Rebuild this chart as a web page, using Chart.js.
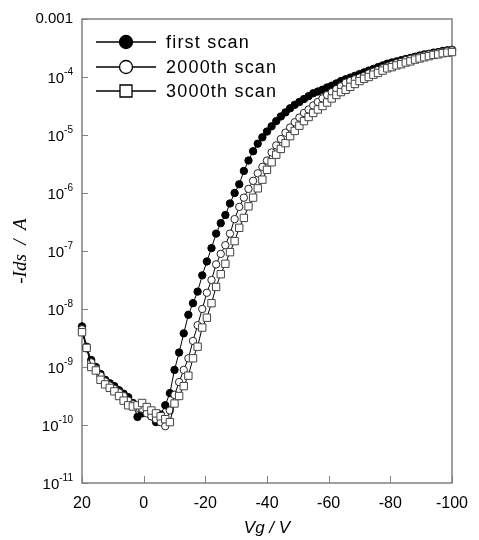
<!DOCTYPE html>
<html>
<head>
<meta charset="utf-8">
<script src="https://cdn.jsdelivr.net/npm/chart.js@4/dist/chart.umd.min.js"></script>
<style>
  html, body { margin: 0; padding: 0; background: #fff; }
  #wrap { width: 479px; height: 540px; }
</style>
</head>
<body>
<div id="wrap"><canvas id="ivChart" width="479" height="540"></canvas></div>
<script>
// gate voltage (V), same for all three scans
var vg = [20, 18.5, 17, 15.5, 14, 12.5, 11, 9.5, 8, 6.5, 5, 3.5, 2, 0.5, -1, -2.5, -4, -5.5, -7, -8.5,
  -10, -11.5, -13, -14.5, -16, -17.5, -19, -20.5, -22, -23.5, -25, -26.5, -28, -29.5, -31, -32.5, -34, -35.5, -37, -38.5,
  -40, -41.5, -43, -44.5, -46, -47.5, -49, -50.5, -52, -53.5, -55, -56.5, -58, -59.5, -61, -62.5, -64, -65.5, -67, -68.5,
  -70, -71.5, -73, -74.5, -76, -77.5, -79, -80.5, -82, -83.5, -85, -86.5, -88, -89.5, -91, -92.5, -94, -95.5, -97, -98.5, -100];

// log10(-Ids / A)
var logFirst = [-8.3, -8.65, -8.88, -9.0, -9.12, -9.22, -9.28, -9.33, -9.4, -9.46, -9.52, -9.62, -9.86, -9.8, -9.76, -9.85, -9.95, -9.82, -9.66, -9.45,
  -9.05, -8.75, -8.42, -8.1, -7.9, -7.7, -7.42, -7.18, -6.95, -6.7, -6.52, -6.38, -6.18, -6.0, -5.85, -5.62, -5.44, -5.28, -5.15, -5.04,
  -4.94, -4.85, -4.76, -4.68, -4.61, -4.54, -4.48, -4.43, -4.38, -4.33, -4.28, -4.25, -4.22, -4.18, -4.15, -4.11, -4.07, -4.04, -4.01, -3.98,
  -3.95, -3.92, -3.89, -3.86, -3.83, -3.8, -3.77, -3.75, -3.73, -3.71, -3.69, -3.67, -3.65, -3.63, -3.61, -3.6, -3.58, -3.57, -3.55, -3.54, -3.53];

var log2000 = [-8.35, -8.68, -8.92, -9.03, -9.15, -9.25, -9.32, -9.38, -9.44, -9.5, -9.58, -9.64, -9.7, -9.72, -9.8, -9.85, -9.9, -9.95, -10.02, -9.75,
  -9.48, -9.26, -9.05, -8.85, -8.55, -8.28, -8.0, -7.72, -7.5, -7.23, -7.05, -6.9, -6.7, -6.45, -6.24, -6.08, -5.93, -5.79, -5.66, -5.55,
  -5.44, -5.3, -5.18, -5.07, -4.96, -4.87, -4.78, -4.7, -4.62, -4.56, -4.49, -4.43, -4.37, -4.31, -4.26, -4.21, -4.16, -4.1, -4.07, -4.04,
  -4.01, -3.98, -3.94, -3.91, -3.88, -3.85, -3.82, -3.79, -3.76, -3.74, -3.71, -3.69, -3.67, -3.65, -3.63, -3.61, -3.6, -3.58, -3.57, -3.55, -3.54];

var log3000 = [-8.4, -8.67, -9.0, -9.06, -9.22, -9.3, -9.36, -9.42, -9.5, -9.58, -9.66, -9.68, -9.66, -9.62, -9.69, -9.75, -9.8, -9.85, -9.9, -9.95,
  -9.63, -9.5, -9.33, -9.15, -8.85, -8.65, -8.32, -8.15, -7.9, -7.62, -7.4, -7.22, -7.02, -6.83, -6.6, -6.43, -6.23, -6.08, -5.92, -5.77,
  -5.6, -5.47, -5.34, -5.24, -5.14, -5.02, -4.93, -4.84, -4.76, -4.69, -4.62, -4.56, -4.5, -4.44, -4.37, -4.31, -4.26, -4.22, -4.17, -4.12,
  -4.07, -4.03, -4.0, -3.96, -3.93, -3.89, -3.85, -3.83, -3.8, -3.78, -3.75, -3.73, -3.7, -3.68, -3.66, -3.64, -3.62, -3.61, -3.59, -3.58, -3.57];

var seriesNames = ["first scan", "2000th scan", "3000th scan"];
var xTicks = [20, 0, -20, -40, -60, -80, -100];
var yExponents = [-11, -10, -9, -8, -7, -6, -5, -4, -3];

function toPoints(logs) {
  return vg.map(function(v, i) {
    return { x: v, y: Math.pow(10, logs[i]) };
  });
}

var AXIS_GRAY = "#808080";

// frame + inward tick marks, drawn under the markers
var framePlugin = {
  id: "frame",
  beforeDatasetsDraw: function(chart) {
    var ctx = chart.ctx;
    var a = chart.chartArea;
    var xs = chart.scales.x, ys = chart.scales.y;
    ctx.save();
    ctx.strokeStyle = AXIS_GRAY;
    ctx.lineWidth = 1.5;
    ctx.strokeRect(a.left, a.top, a.right - a.left, a.bottom - a.top);
    ctx.lineWidth = 1;
    xTicks.forEach(function(t) {
      var px = Math.round(xs.getPixelForValue(t)) + 0.5;
      ctx.beginPath();
      ctx.moveTo(px, a.bottom);
      ctx.lineTo(px, a.bottom - 7);
      ctx.stroke();
    });
    yExponents.forEach(function(e) {
      var py = Math.round(ys.getPixelForValue(Math.pow(10, e))) + 0.5;
      ctx.beginPath();
      ctx.moveTo(a.left, py);
      ctx.lineTo(a.left + 6, py);
      ctx.stroke();
    });
    ctx.restore();
  }
};

// y labels as 10 with a raised exponent, top one as 0.001
var yLabelPlugin = {
  id: "yLabels",
  afterDraw: function(chart) {
    var ctx = chart.ctx;
    var ys = chart.scales.y;
    var right = chart.chartArea.left - 9;
    ctx.save();
    ctx.fillStyle = "#000";
    ctx.textAlign = "right";
    ctx.textBaseline = "middle";
    yExponents.forEach(function(e) {
      var py = ys.getPixelForValue(Math.pow(10, e));
      if (e === -3) {
        ctx.font = "15px Arial, 'Liberation Sans'";
        ctx.fillText("0.001", right, py);
        return;
      }
      var ex = String(e);
      ctx.font = "10px Arial, 'Liberation Sans'";
      var w = ctx.measureText(ex).width;
      ctx.fillText(ex, right, py - 5);
      ctx.font = "15px Arial, 'Liberation Sans'";
      ctx.fillText("10", right - w, py + 2);
    });
    ctx.restore();
  }
};

// legend: line with the marker in the middle, top-left inside the plot
var legendPlugin = {
  id: "lineLegend",
  afterDatasetsDraw: function(chart) {
    var ctx = chart.ctx;
    var rowsY = [42, 67, 91];
    ctx.save();
    for (var i = 0; i < 3; i++) {
      var y = rowsY[i];
      ctx.strokeStyle = "#000";
      ctx.lineWidth = 1.5;
      ctx.beginPath();
      ctx.moveTo(96, y);
      ctx.lineTo(156, y);
      ctx.stroke();
      ctx.lineWidth = 1.3;
      ctx.beginPath();
      if (i === 2) {
        ctx.rect(120, y - 6, 12, 12);
      } else {
        ctx.arc(126, y, 6.5, 0, Math.PI * 2);
      }
      ctx.fillStyle = i === 0 ? "#000" : "#fff";
      ctx.fill();
      ctx.stroke();
      ctx.fillStyle = "#000";
      ctx.font = "18px Arial, 'Liberation Sans'";
      ctx.letterSpacing = "1.2px";
      ctx.textAlign = "left";
      ctx.textBaseline = "middle";
      ctx.fillText(seriesNames[i], 166, y + 1);
    }
    ctx.restore();
  }
};

var ctx = document.getElementById("ivChart").getContext("2d");
var ivChart = new Chart(ctx, {
  type: "line",
  data: {
    datasets: [{
      label: seriesNames[0],
      data: toPoints(logFirst),
      borderColor: "#000",
      borderWidth: 1,
      pointStyle: "circle",
      pointRadius: 3.7,
      pointBorderWidth: 1,
      pointBackgroundColor: "#000",
      pointBorderColor: "#000",
      order: 3
    }, {
      label: seriesNames[1],
      data: toPoints(log2000),
      borderColor: "#000",
      borderWidth: 1,
      pointStyle: "circle",
      pointRadius: 3.7,
      pointBorderWidth: 1,
      pointBackgroundColor: "#fff",
      pointBorderColor: "#222",
      order: 2
    }, {
      label: seriesNames[2],
      data: toPoints(log3000),
      borderColor: "#000",
      borderWidth: 1,
      pointStyle: "rect",
      pointRadius: 5.2,
      pointBorderWidth: 1,
      pointBackgroundColor: "#fff",
      pointBorderColor: "#444",
      order: 1
    }]
  },
  options: {
    responsive: false,
    animation: false,
    clip: false,
    layout: { padding: { top: 19, right: 17, left: 0, bottom: 0 } },
    plugins: {
      legend: { display: false },
      tooltip: { enabled: false }
    },
    elements: { line: { tension: 0 } },
    scales: {
      x: {
        type: "linear",
        min: -100,
        max: 20,
        reverse: true,
        afterBuildTicks: function(scale) {
          scale.ticks = xTicks.map(function(v) { return { value: v }; });
        },
        afterFit: function(scale) { scale.height = 57; },
        grid: { display: false, drawTicks: false },
        border: { display: false },
        ticks: {
          color: "#000",
          padding: 11,
          maxRotation: 0,
          font: { family: "Arial, 'Liberation Sans'", size: 16 }
        },
        title: {
          display: true,
          text: "Vg / V",
          color: "#000",
          padding: { top: 0, bottom: 2 },
          font: { family: "Arial, 'Liberation Sans'", size: 17, style: "italic" }
        }
      },
      y: {
        type: "logarithmic",
        min: 1e-11,
        max: 1e-3,
        afterFit: function(scale) { scale.width = 82; },
        grid: { display: false, drawTicks: false },
        border: { display: false },
        ticks: { display: false },
        title: {
          display: true,
          text: "-Ids  /  A",
          color: "#000",
          padding: { top: 10, bottom: 0 },
          font: { family: "'Times New Roman', 'Liberation Serif', serif", size: 19, style: "italic" }
        }
      }
    }
  },
  plugins: [framePlugin, yLabelPlugin, legendPlugin]
});
</script>
</body>
</html>
